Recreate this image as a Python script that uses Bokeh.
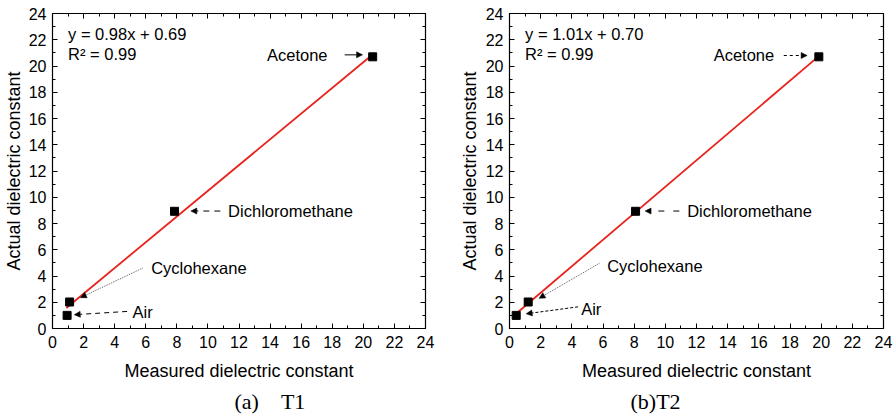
from bokeh.plotting import figure
from bokeh.layouts import row
from bokeh.models import (LinearAxis, Range1d, Arrow, NormalHead, Label, Title,
                          SingleIntervalTicker, CustomJSTickFormatter, ColumnDataSource)
from bokeh.embed import file_html
from bokeh.resources import INLINE

# ---------------- data ----------------
liquids = ["Air", "Cyclohexane", "Dichloromethane", "Acetone"]
actual = [1.0, 2.02, 8.93, 20.7]
measured_t1 = [0.94, 1.1, 7.85, 20.6]
measured_t2 = [0.43, 1.2, 8.09, 19.85]
fit_t1 = [0.98, 0.69]
fit_t2 = [1.01, 0.70]
r2_t1 = 0.99
r2_t2 = 0.99
captions = ["(a)\u00a0\u00a0\u00a0\u00a0T1", "(b)T2"]
x_label = "Measured dielectric constant"
y_label = "Actual dielectric constant"

# annotation layout (data units): text position, arrow start, arrow end, dash
ann_t1 = {
    "Acetone":         dict(t=(13.8, 20.85), a=(18.8, 20.85), b=(19.95, 20.85), dash="solid"),
    "Dichloromethane": dict(t=(11.3, 8.95), a=(10.8, 8.95), b=(8.9, 8.95), dash="6 5"),
    "Cyclohexane":     dict(t=(6.35, 4.6), a=(5.8, 4.6), b=(1.8, 2.35), dash="1 1"),
    "Air":             dict(t=(5.15, 1.25), a=(4.8, 1.3), b=(1.4, 1.05), dash="5 4"),
}
ann_t2 = {
    "Acetone":         dict(t=(13.1, 20.85), a=(17.6, 20.8), b=(19.1, 20.8), dash="3 3"),
    "Dichloromethane": dict(t=(11.4, 8.95), a=(10.9, 8.95), b=(8.7, 8.95), dash="6 9"),
    "Cyclohexane":     dict(t=(6.27, 4.75), a=(5.77, 4.97), b=(1.9, 2.3), dash="1 1"),
    "Air":             dict(t=(4.6, 1.5), a=(4.4, 1.65), b=(1.07, 1.12), dash="3 2"),
}

FONT = "Liberation Sans"


def make_panel(measured, fit, r2, ann, caption, bl, br, cap_offset, ylab_standoff):
    p = figure(width=448, height=419, output_backend="svg", toolbar_location=None,
               x_range=Range1d(0, 24), y_range=Range1d(0, 24),
               min_border_left=bl, min_border_right=br,
               min_border_top=13, min_border_bottom=91,
               x_axis_location=None, y_axis_location=None)
    p.xgrid.visible = False
    p.ygrid.visible = False
    p.outline_line_color = "black"
    p.outline_line_width = 1.2
    p.background_fill_color = "white"
    p.border_fill_color = "white"

    blank = CustomJSTickFormatter(code="return ''")

    def style(ax, labels=True):
        ax.ticker = SingleIntervalTicker(interval=2, num_minor_ticks=2)
        ax.major_tick_in = 5
        ax.major_tick_out = 0
        ax.minor_tick_in = 3
        ax.minor_tick_out = 0
        ax.axis_line_color = "black"
        ax.major_tick_line_color = "black"
        ax.minor_tick_line_color = "black"
        ax.major_label_text_font = FONT
        ax.major_label_text_font_size = "16px"
        ax.major_label_text_color = "black"
        ax.axis_label_text_font = FONT
        ax.axis_label_text_font_size = "18px"
        ax.axis_label_text_font_style = "normal"
        ax.axis_label_text_color = "black"
        if not labels:
            ax.formatter = blank
            ax.major_label_standoff = 0

    xb = LinearAxis(axis_label=x_label, major_label_standoff=7, axis_label_standoff=10)
    yl = LinearAxis(axis_label=y_label, major_label_standoff=6, axis_label_standoff=ylab_standoff)
    xt = LinearAxis()
    yr = LinearAxis()
    style(xb); style(yl); style(xt, False); style(yr, False)
    p.add_layout(xb, "below")
    p.add_layout(yl, "left")
    p.add_layout(xt, "above")
    p.add_layout(yr, "right")

    # fit line
    x0, x1 = min(measured), max(measured)
    xs = [x0 - 0.05, x1]
    ys = [fit[0] * x + fit[1] for x in xs]
    p.line(xs, ys, line_color="#e8231c", line_width=1.8)

    src = ColumnDataSource(dict(x=measured, y=actual, name=liquids))
    p.scatter("x", "y", source=src, marker="square", size=8, color="black")

    p.add_layout(Label(x=1.0, y=22.45, text=f"y = {fit[0]:.2f}x + {fit[1]:.2f}",
                       text_font=FONT, text_font_size="16.5px",
                       text_baseline="middle", text_color="black"))
    p.add_layout(Label(x=1.0, y=20.95, text=f"R\u00b2 = {r2:.2f}",
                       text_font=FONT, text_font_size="16.5px",
                       text_baseline="middle", text_color="black"))

    for name in liquids:
        a = ann[name]
        p.add_layout(Label(x=a["t"][0], y=a["t"][1], text=name,
                           text_font=FONT, text_font_size="16.5px",
                           text_baseline="middle", text_color="black"))
        thin = name == "Cyclohexane"
        p.add_layout(Arrow(x_start=a["a"][0], y_start=a["a"][1],
                           x_end=a["b"][0], y_end=a["b"][1],
                           line_color="#333333" if thin else "black",
                           line_width=0.8 if thin else 1.0,
                           line_dash=a["dash"],
                           end=NormalHead(size=6, fill_color="black",
                                          line_color="black", line_width=0.5)))

    p.add_layout(Title(text=caption, align="left", offset=cap_offset,
                       text_font="Liberation Serif", text_font_size="22px",
                       text_font_style="normal", text_color="black",
                       standoff=6), "below")
    return p


p1 = make_panel(measured_t1, fit_t1, r2_t1, ann_t1, captions[0], 52, 23, 182, 2)
p2 = make_panel(measured_t2, fit_t2, r2_t2, ann_t2, captions[1], 61, 13, 121, 3)

layout = row(p1, p2)
open("out.html", "w").write(file_html(layout, INLINE))
